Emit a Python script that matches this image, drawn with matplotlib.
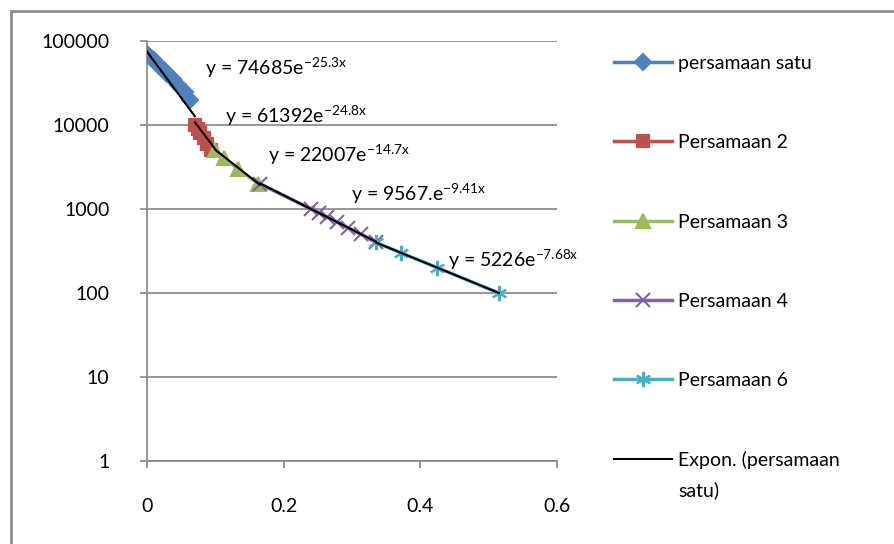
import numpy as np
import matplotlib
matplotlib.use("Agg")
import matplotlib.pyplot as plt
from matplotlib.patches import Rectangle

plt.rcParams['font.family'] = ['Lato', 'DejaVu Sans']
plt.rcParams['mathtext.default'] = 'regular'

# data
x1 = [0.0, 0.005, 0.010, 0.018, 0.025, 0.030, 0.038, 0.045, 0.055, 0.063]
y1 = [70000, 65000, 60000, 50000, 45000, 40000, 35000, 30000, 25000, 20000]
x2 = [0.070, 0.074, 0.078, 0.083, 0.088, 0.094]
y2 = [10000, 9000, 8000, 7000, 6000, 5000]
x3 = [0.100, 0.113, 0.133, 0.163]
y3 = [5000, 4000, 3000, 2000]
x4 = [0.165, 0.240, 0.252, 0.264, 0.278, 0.294, 0.313, 0.335]
y4 = [2000, 1000, 900, 800, 700, 600, 500, 400]
x6 = [0.335, 0.372, 0.425, 0.515]
y6 = [400, 300, 200, 100]

# exponential trendlines (a, b) -> y = a*exp(b*x)
fits = [(74685, -25.3), (61392, -24.8), (22007, -14.7), (9567, -9.41), (5226, -7.68)]
fit_labels = ['y = 74685e$^{-25.3x}$', 'y = 61392e$^{-24.8x}$', 'y = 22007e$^{-14.7x}$',
              'y = 9567.e$^{-9.41x}$', 'y = 5226e$^{-7.68x}$']
label_pos = [(0.085, 48000), (0.114, 13000), (0.177, 4400), (0.298, 1500), (0.44, 250)]
trend_end = [0.070, 0.100, 0.165, 0.335, 0.515]

names = ['persamaan satu', 'Persamaan 2', 'Persamaan 3', 'Persamaan 4', 'Persamaan 6']
colors = ['#4F81BD', '#C0504D', '#9BBB59', '#8064A2', '#4BACC6']
markers = ['D', 's', '^', 'x', (6, 2, 0)]
sizes = [8, 9, 10, 10, 11]

fig = plt.figure(figsize=(8.95, 5.44), dpi=100)
fig.patches.append(Rectangle((11/895, -0.01), 1.0, 1 - 11/544 + 0.01, transform=fig.transFigure,
                             fill=False, edgecolor='#8c8c8c', linewidth=2))
ax = fig.add_axes([147/895, 1 - 461/544, 410/895, 420/544])

xs = [x1, x2, x3, x4, x6]
ys = [y1, y2, y3, y4, y6]
for i in range(5):
    ax.plot(xs[i], ys[i], color=colors[i], lw=2.5, marker=markers[i], ms=sizes[i],
            mew=1.5, label=names[i], zorder=3)

for i, (a, b) in enumerate(fits):
    xx = np.linspace(min(xs[i]), trend_end[i], 50)
    ax.plot(xx, a * np.exp(b * xx), color='black', lw=1.5, zorder=4,
            label='Expon. (persamaan' if i == 0 else None)
    ax.text(label_pos[i][0], label_pos[i][1], fit_labels[i], fontsize=14, va='center')

ax.set_yscale('log')
ax.set_ylim(1, 100000)
ax.set_xlim(0, 0.6)
ax.set_xticks([0, 0.2, 0.4, 0.6])
ax.set_xticklabels(['0', '0.2', '0.4', '0.6'])
ax.set_yticks([1, 10, 100, 1000, 10000, 100000])
ax.set_yticklabels(['1', '10', '100', '1000', '10000', '100000'])
ax.minorticks_off()
ax.tick_params(labelsize=14, color='#868686', length=5, width=1.2)
ax.tick_params(axis='y', pad=22)
ax.tick_params(axis='x', pad=22)
ax.grid(axis='y', color='#868686', lw=1.2)
ax.set_axisbelow(True)
for s in ['top', 'right']:
    ax.spines[s].set_visible(False)
for s in ['left', 'bottom']:
    ax.spines[s].set_color('#868686')
    ax.spines[s].set_linewidth(1.2)

leg = ax.legend(loc='upper left', bbox_to_anchor=(1.12, 0.985), frameon=False, fontsize=14,
                handlelength=3.0, handletextpad=0.3, labelspacing=3.2, borderaxespad=0)

# second line of the trendline label, under the first
fig.canvas.draw()
bb = leg.get_texts()[-1].get_window_extent()
fig.text(bb.x0 / fig.bbox.width, (bb.y0 - 27) / fig.bbox.height, 'satu)', fontsize=14)

fig.savefig('out.png', dpi=100, facecolor='white')
